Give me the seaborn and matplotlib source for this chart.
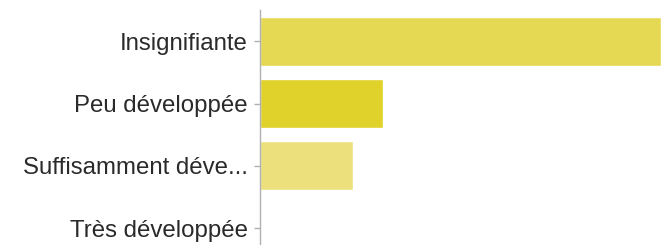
import matplotlib
matplotlib.use('Agg')
import matplotlib.pyplot as plt
import seaborn as sns
import pandas as pd

# data
categories = ['Insignifiante', 'Peu développée', 'Suffisamment déve...', 'Très développée']
counts = [13, 4, 3, 0]
bar_colors = ['#e5d953', '#e0d22b', '#ebe07b', '#e5d953']

sns.set_style('white')
plt.rcParams['font.family'] = ['Liberation Sans', 'DejaVu Sans']

df = pd.DataFrame({'category': categories, 'count': counts})

fig = plt.figure(figsize=(6.61, 2.45), dpi=100)
ax = fig.add_axes([260 / 661, 0, 1 - 260 / 661, 235 / 245])

sns.barplot(data=df, x='count', y='category', hue='category', palette=bar_colors,
            legend=False, width=0.79, ax=ax, saturation=1)

ax.set_xlim(0, 13)
ax.set_ylim(3.27, -0.5)
ax.set_xlabel('')
ax.set_ylabel('')
ax.set_xticks([])
for s in ['top', 'right', 'bottom']:
    ax.spines[s].set_visible(False)
ax.spines['left'].set_color('#b0b0b0')
ax.spines['left'].set_linewidth(1)
ax.tick_params(axis='y', length=4, width=1, color='#b0b0b0', pad=5,
               labelsize=17.3, labelcolor='#2a2a2a', left=True)

fig.savefig('out.png', dpi=100)
